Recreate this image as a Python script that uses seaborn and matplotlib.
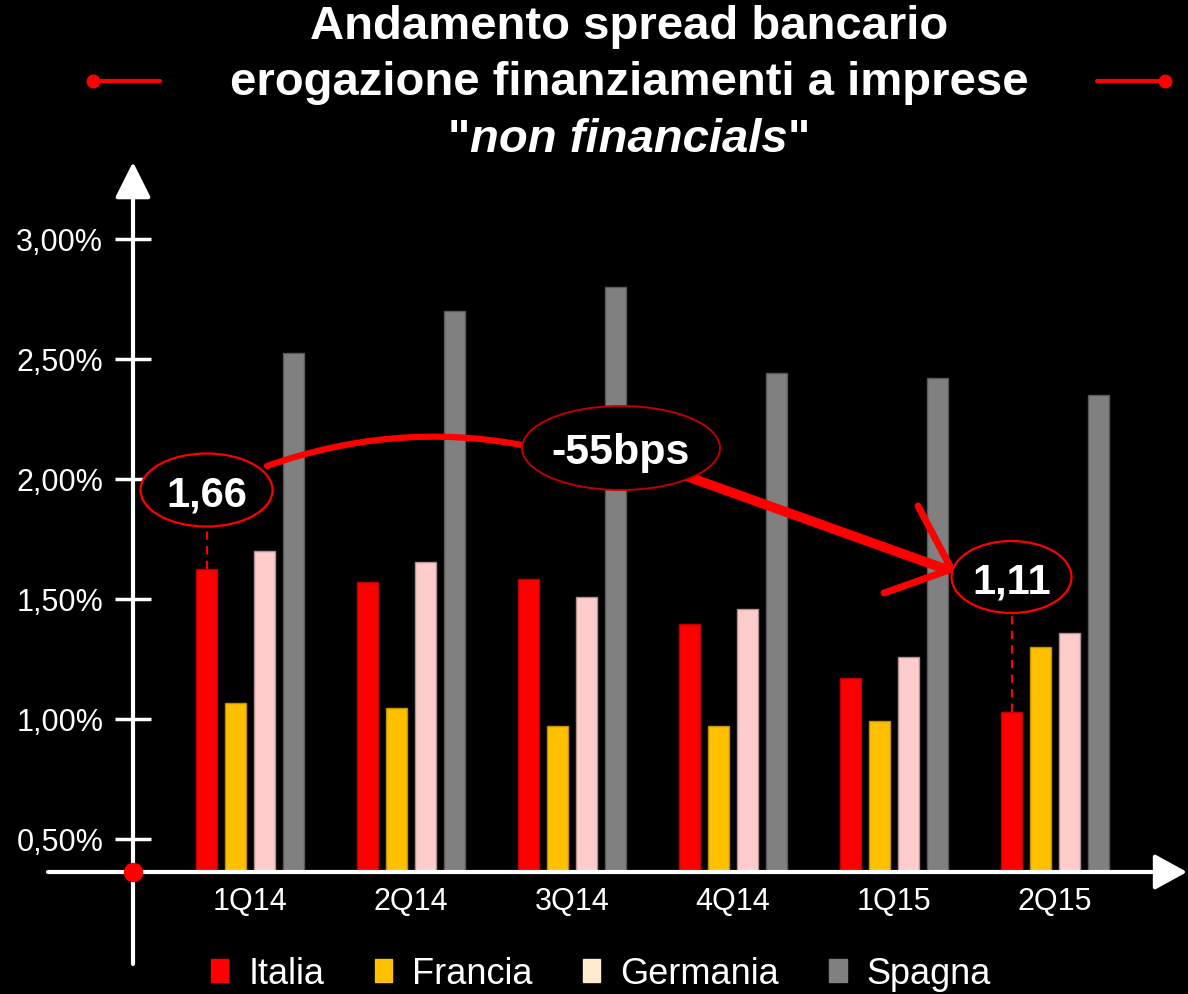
import numpy as np
import pandas as pd
import matplotlib
matplotlib.use("Agg")
import matplotlib.pyplot as plt
import seaborn as sns
from matplotlib.patches import Ellipse, Patch, PathPatch
from matplotlib.path import Path
from matplotlib.lines import Line2D

# ---------------- data ----------------
quarters = ["1Q14", "2Q14", "3Q14", "4Q14", "1Q15", "2Q15"]
paesi = ["Italia", "Francia", "Germania", "Spagna"]
italia = [1.625, 1.57, 1.585, 1.395, 1.17, 1.03]
francia = [1.065, 1.045, 0.97, 0.97, 0.99, 1.30]
germania = [1.70, 1.655, 1.51, 1.46, 1.26, 1.36]
spagna = [2.525, 2.70, 2.80, 2.44, 2.42, 2.35]
yticks = [0.5, 1.0, 1.5, 2.0, 2.5, 3.0]
ytick_labels = ["0,50%", "1,00%", "1,50%", "2,00%", "2,50%", "3,00%"]
title_lines = ["Andamento spread bancario", "erogazione finanziamenti a imprese", "non financials"]
label_start = "1,66"
label_end = "1,11"
label_delta = "-55bps"

bar_colors = {"Italia": "#FF0000", "Francia": "#FFC000", "Germania": "#FFCCCC", "Spagna": "#808080"}
edge_colors = ["#C00000", "#BF9000", "#B09090", "#595959"]
legend_colors = ["#FF0000", "#FFC000", "#FFEBD0", "#808080"]

df = pd.DataFrame({
    "Trimestre": quarters * 4,
    "Paese": sum([[p] * len(quarters) for p in paesi], []),
    "Spread": italia + francia + germania + spagna,
})

# ---------------- style ----------------
sns.set_theme(style="white")
plt.rcParams["font.family"] = ["Liberation Sans", "DejaVu Sans"]

W, H = 1188, 995
fig = plt.figure(figsize=(W / 100, H / 100), dpi=100, facecolor="black")

# pixel -> data helpers (layout only)
def dx(px):
    return (px - 250) / 161.0

def dy(py):
    return 3.0 - (py - 240) / 240.0

ax = fig.add_axes([133 / W, 1 - 873 / H, (1172 - 133) / W, (873 - 165) / H])
ax.set_facecolor("black")

sns.barplot(data=df, x="Trimestre", y="Spread", hue="Paese", order=quarters,
            hue_order=paesi, palette=bar_colors, saturation=1, width=0.72,
            gap=0.28, errorbar=None, legend=False, linewidth=1, ax=ax)
for cont, ec in zip(ax.containers, edge_colors):
    for b in cont:
        b.set_edgecolor(ec)
        b.set_zorder(2)

ax.set_xlim(dx(133), dx(1172))
ax.set_ylim(dy(873), dy(165))
for s in ax.spines.values():
    s.set_visible(False)
ax.set_xlabel("")
ax.set_ylabel("")
ax.set_yticks(yticks, ytick_labels)
ax.set_xticks(range(len(quarters)), quarters)
ax.tick_params(axis="y", direction="inout", length=26, width=2.5, color="white",
               labelcolor="white", labelsize=22, pad=8.5, left=True)
ax.tick_params(axis="x", length=0, labelcolor="white", labelsize=22, pad=10)

# axis lines with arrows
ax.annotate("", xy=(dx(133), dy(163)), xytext=(dx(133), dy(965)),
            arrowprops=dict(arrowstyle="-|>,head_length=1.1,head_width=0.55", mutation_scale=20,
                            color="white", lw=3, shrinkA=0, shrinkB=0, clip_on=False),
            annotation_clip=False, zorder=5)
ax.annotate("", xy=(dx(1187), dy(873)), xytext=(dx(48), dy(873)),
            arrowprops=dict(arrowstyle="-|>,head_length=1.0,head_width=0.55", mutation_scale=20,
                            color="white", lw=3, shrinkA=0, shrinkB=0, clip_on=False),
            annotation_clip=False, zorder=5)
ax.plot([dx(133)], [dy(873)], "o", color="red", ms=13, clip_on=False, zorder=7)

# ---------------- annotations ----------------
b0 = ax.containers[0][0]
x_start = b0.get_x() + b0.get_width() / 2
b5 = ax.containers[0][len(quarters) - 1]
x_end = b5.get_x() + b5.get_width() / 2

# hand-drawn arrow
path1 = Path([(dx(267), dy(467)), (dx(395), dy(422)), (dx(522), dy(446))],
             [Path.MOVETO, Path.CURVE3, Path.CURVE3])
ax.add_patch(PathPatch(path1, fc="none", ec="red", lw=4.5, capstyle="round",
                       zorder=4, clip_on=False))
ax.plot([dx(683), dx(948)], [dy(476), dy(571)], color="red", lw=7, zorder=4,
        solid_capstyle="butt", clip_on=False)
ax.plot([dx(918), dx(952)], [dy(507), dy(571)], color="red", lw=5, zorder=4,
        solid_capstyle="round", clip_on=False)
ax.plot([dx(884), dx(952)], [dy(594), dy(570)], color="red", lw=5, zorder=4,
        solid_capstyle="round", clip_on=False)

# ellipse 1,66
yc1 = dy(491)
ax.add_patch(Ellipse((x_start, yc1), 132 / 161, 73 / 240, fc="black", ec="red",
                     lw=1.6, zorder=6, clip_on=False))
ax.text(x_start, yc1, label_start, ha="center", va="center_baseline", fontsize=30,
        fontweight="bold", color="white", zorder=7)
ax.plot([x_start, x_start], [italia[0], dy(528)], color="red", lw=1.5,
        ls=(0, (4, 3)), zorder=3)

# ellipse -55bps
ax.add_patch(Ellipse((dx(621), dy(449)), 198 / 161, 84 / 240, fc="black", ec="#C00000",
                     lw=1.4, zorder=6, clip_on=False))
ax.text(dx(621), dy(449), label_delta, ha="center", va="center_baseline", fontsize=31,
        fontweight="bold", color="white", zorder=7)

# ellipse 1,11
yc3 = dy(578)
ax.add_patch(Ellipse((x_end, yc3), 120 / 161, 72 / 240, fc="black", ec="red",
                     lw=1.6, zorder=6, clip_on=False))
ax.text(x_end, yc3, label_end, ha="center", va="center_baseline", fontsize=30,
        fontweight="bold", color="white", zorder=7)
ax.plot([x_end, x_end], [italia[-1], dy(614)], color="red", lw=1.5,
        ls=(0, (4, 3)), zorder=3)

# ---------------- title ----------------
cx = 629 / W
fig.text(cx, 1 - 27 / H, title_lines[0], ha="center", va="center", fontsize=34,
         fontweight="bold", color="white")
fig.text(cx, 1 - 83 / H, title_lines[1], ha="center", va="center", fontsize=34,
         fontweight="bold", color="white")
t3 = fig.text(cx, 1 - 140 / H, title_lines[2], ha="center", va="center", fontsize=34,
              fontweight="bold", style="italic", color="white")
ax.annotate('"', xy=(0, 0.5), xycoords=t3, ha="right", va="center", fontsize=34,
            fontweight="bold", color="white", annotation_clip=False)
ax.annotate('"', xy=(1, 0.5), xycoords=t3, ha="left", va="center", fontsize=34,
            fontweight="bold", color="white", annotation_clip=False)

# decorative red lines
fig.add_artist(Line2D([93 / W, 160 / W], [1 - 82 / H, 1 - 82 / H], color="red", lw=3,
                      marker="o", markevery=[0], ms=9, transform=fig.transFigure))
fig.add_artist(Line2D([1097 / W, 1165 / W], [1 - 82 / H, 1 - 82 / H], color="red", lw=3,
                      marker="o", markevery=[1], ms=9, transform=fig.transFigure))

# ---------------- legend ----------------
handles = [Patch(facecolor=c, edgecolor=c) for c in legend_colors]
fig.legend(handles, paesi, loc="center", bbox_to_anchor=(601 / W, 1 - 975 / H), ncol=4,
           frameon=False, fontsize=26, labelcolor="white", handlelength=0.48,
           handleheight=0.62, handletextpad=0.55, columnspacing=1.4)

fig.savefig("out.png", dpi=100, facecolor="black")
